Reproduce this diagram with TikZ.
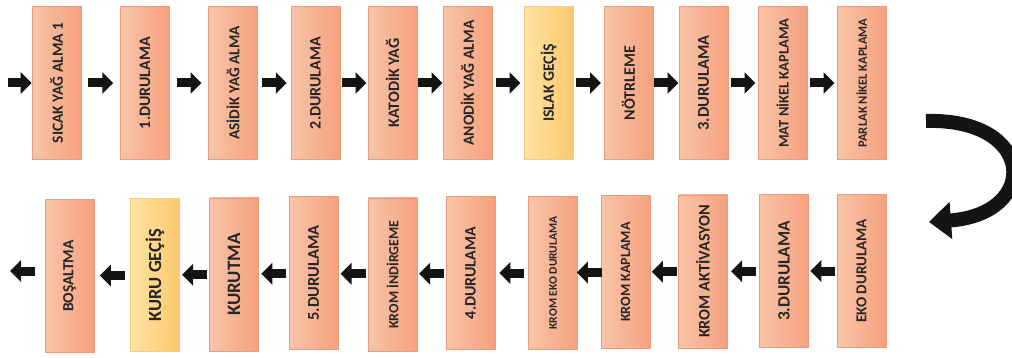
\documentclass[tikz,border=0pt]{standalone}
\usepackage{fontspec}
\setmainfont{Carlito}
\usepackage{graphicx}
\usetikzlibrary{arrows.meta,positioning,calc}
\definecolor{salmonL}{HTML}{F9C4A8}
\definecolor{salmonR}{HTML}{F4A17E}
\definecolor{salmonB}{HTML}{EA9C7C}
\definecolor{yellowL}{HTML}{FEE3A2}
\definecolor{yellowR}{HTML}{FBC96E}
\definecolor{yellowB}{HTML}{F2CF7C}

\begin{document}
\begin{tikzpicture}[x=1pt,y=-1pt,
  every node/.style={font=\bfseries, text=black!85},
  pbox/.style={draw=salmonB, line width=0.6pt, left color=salmonL, right color=salmonR,
    minimum width=49pt, minimum height=153pt, inner sep=0pt},
  ybox/.style={pbox, draw=yellowB, left color=yellowL, right color=yellowR},
  flow/.style={line width=9pt, black!92, -{Triangle[width=21pt,length=11pt]}},
  turn/.style={line width=14pt, black!92, -{Triangle[width=36pt,length=22pt]}}]
\useasboundingbox (0,0) rectangle (1012,358);

% upper line, left to right
\foreach \name/\x/\c/\s/\t in {t1/56.5/pbox/15.5/SICAK YAĞ ALMA 1,t2/145/pbox/16/1.DURULAMA,
  t3/233/pbox/15.3/ASİDİK YAĞ ALMA,t4/315.5/pbox/16/2.DURULAMA,t5/392.5/pbox/16/KATODİK YAĞ,
  t6/467.5/pbox/15.6/ANODİK YAĞ ALMA,t7/548.5/ybox/15.8/ISLAK GEÇİŞ,t8/628.5/pbox/16/NÖTRLEME,
  t9/703.5/pbox/16.5/3.DURULAMA,t10/782.5/pbox/14.5/MAT NİKEL KAPLAMA,
  t11/861.5/pbox/12.6/PARLAK NİKEL KAPLAMA} {
  \node[\c] (\name) at (\x,83) {\rotatebox{90}{\fontsize{\s}{\s}\selectfont \t}};
}
\coordinate (entry) at (8,83);
\draw[flow] (entry) -- (t1.west);
\foreach \a/\b in {t1/t2,t2/t3,t3/t4,t4/t5,t5/t6,t6/t7,t7/t8,t8/t9,t9/t10,t10/t11}
  \draw[flow] ($(\a.east)!.5!(\b.west)+(-12.5,0)$) -- ($(\a.east)!.5!(\b.west)+(12.5,0)$);

% turn to the lower line
\coordinate (turnA) at (926,121);
\coordinate (turnB) at (929,222);
\draw[turn] (turnA) .. controls (1036,118) and (1040,214) .. (turnB);

% lower line, right to left
\foreach \name/\x/\y/\c/\s/\t in {b1/69.5/276/pbox/15.5/BOŞALTMA,b2/155/275/ybox/18.5/KURU GEÇİŞ,
  b3/234/274.5/pbox/18.9/KURUTMA,b4/313.5/273/pbox/16.5/5.DURULAMA,
  b5/392.5/274.5/pbox/14/KROM İNDİRGEME,b6/470.5/273/pbox/16/4.DURULAMA,
  b7/553/273/pbox/11.6/KROM EKO DURULAMA,b8/625.5/272/pbox/14.1/KROM KAPLAMA,
  b9/703/271.5/pbox/16.2/KROM AKTİVASYON,b10/784/271/pbox/17.3/3.DURULAMA,
  b11/861.5/271/pbox/15.1/EKO DURULAMA} {
  \node[\c] (\name) at (\x,\y) {\rotatebox{90}{\fontsize{\s}{\s}\selectfont \t}};
}
\foreach \a/\b in {b11/b10,b10/b9,b9/b8,b8/b7,b7/b6,b6/b5,b5/b4,b4/b3,b3/b2,b2/b1}
  \draw[flow] ($(\a.west)!.5!(\b.east)+(12.5,0)$) -- ($(\a.west)!.5!(\b.east)+(-12.5,0)$);
\coordinate (exit) at (10,271);
\draw[flow] ($(b1.west)+(-10,-5)$) -- (exit);
\end{tikzpicture}
\end{document}
